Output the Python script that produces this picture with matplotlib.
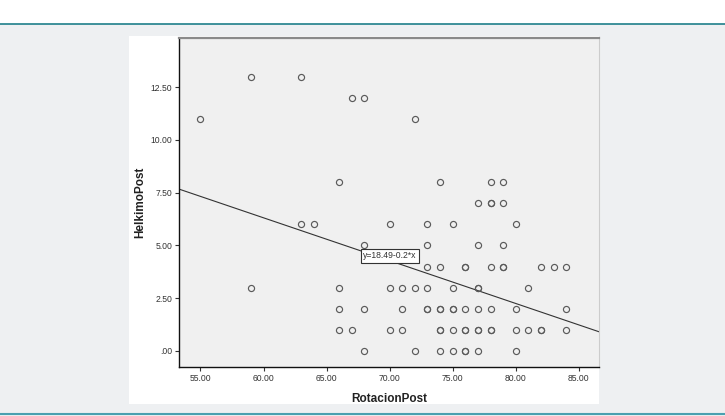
import matplotlib
matplotlib.use("Agg")
import matplotlib.pyplot as plt
from matplotlib.patches import Rectangle
from matplotlib.lines import Line2D
import numpy as np

plt.rcParams['font.family'] = ['Liberation Sans', 'DejaVu Sans']

# Data (RotacionPost, HelkimoPost); repeated pairs = overlapping cases
rotacion = [59, 63,
            67, 68,
            55, 72,
            66, 74, 78, 79,
            77, 78, 78, 79,
            63, 64, 70, 73, 75, 80,
            68, 73, 77, 79,
            73, 74, 76, 76, 78, 79, 79, 82, 83, 84,
            59, 66, 70, 71, 72, 73, 75, 77, 77, 81,
            66, 68, 71, 73, 73, 74, 74, 75, 75, 76, 77, 78, 80, 84,
            66, 67, 70, 71, 74, 74, 75, 76, 76, 77, 77, 78, 78, 80, 81, 82, 82, 84,
            68, 72, 74, 75, 76, 76, 77, 80]
helkimo = [13, 13,
           12, 12,
           11, 11,
           8, 8, 8, 8,
           7, 7, 7, 7,
           6, 6, 6, 6, 6, 6,
           5, 5, 5, 5,
           4, 4, 4, 4, 4, 4, 4, 4, 4, 4,
           3, 3, 3, 3, 3, 3, 3, 3, 3, 3,
           2, 2, 2, 2, 2, 2, 2, 2, 2, 2, 2, 2, 2, 2,
           1, 1, 1, 1, 1, 1, 1, 1, 1, 1, 1, 1, 1, 1, 1, 1, 1, 1,
           0, 0, 0, 0, 0, 0, 0, 0]

fit_intercept = 18.49
fit_slope = -0.203
fit_label = "y=18.49-0.2*x"

x_ticks = [55, 60, 65, 70, 75, 80, 85]
x_ticklabels = ["55.00", "60.00", "65.00", "70.00", "75.00", "80.00", "85.00"]
y_ticks = [0, 2.5, 5, 7.5, 10, 12.5]
y_ticklabels = [".00", "2.50", "5.00", "7.50", "10.00", "12.50"]

W, H = 725, 416
fig = plt.figure(figsize=(W / 100, H / 100), dpi=100)
fig.patch.set_facecolor('#eef0f2')

# top white band and teal rules
fig.patches.append(Rectangle((0, 1 - 24 / H), 1, 24 / H, transform=fig.transFigure,
                             facecolor='white', edgecolor='none', zorder=-2))
fig.lines.append(Line2D([0, 1], [1 - 24 / H, 1 - 24 / H], transform=fig.transFigure,
                        color='#1f7f8a', lw=1.2, zorder=-1))
fig.lines.append(Line2D([0, 1], [1 - 414 / H, 1 - 414 / H], transform=fig.transFigure,
                        color='#4aa0b0', lw=1.5, zorder=-1))
# white chart panel
fig.patches.append(Rectangle((129 / W, 1 - 404 / H), (599 - 129) / W, (404 - 36) / H,
                             transform=fig.transFigure, facecolor='white',
                             edgecolor='none', zorder=-2))

ax = fig.add_axes([179 / W, 1 - 367 / H, 420 / W, (367 - 38) / H])
ax.set_facecolor('#f0f0f0')

ax.plot(rotacion, helkimo, linestyle='none', marker='o', markersize=4.4,
        markerfacecolor='none', markeredgecolor='#5a5a5a', markeredgewidth=0.85,
        zorder=3)

xlim = (53.3, 86.6)
ax.set_xlim(*xlim)
ax.set_ylim(-0.76, 14.83)
xx = np.array(xlim)
ax.plot(xx, fit_intercept + fit_slope * xx, color='#333333', lw=0.8, zorder=2)

ax.text(70.0, 4.5, fit_label, fontsize=6.2, color='#333333', ha='center', va='center',
        zorder=4,
        bbox=dict(boxstyle='square,pad=0.25', facecolor='white', edgecolor='#333333',
                  linewidth=0.8))

ax.set_xticks(x_ticks)
ax.set_xticklabels(x_ticklabels)
ax.set_yticks(y_ticks)
ax.set_yticklabels(y_ticklabels)
ax.tick_params(axis='both', labelsize=6.2, colors='#333333', length=3, width=0.8,
               direction='out', pad=2)

for s in ['left', 'bottom']:
    ax.spines[s].set_color('#111111')
    ax.spines[s].set_linewidth(1.0)
ax.spines['top'].set_color('#8a8a8a')
ax.spines['top'].set_linewidth(1.6)
ax.spines['right'].set_color('#cccccc')
ax.spines['right'].set_linewidth(0.8)

ax.set_xlabel('RotacionPost', fontsize=8.5, fontweight='bold', color='#222222',
              labelpad=7)
ax.set_ylabel('HelkimoPost', fontsize=8.5, fontweight='bold', color='#222222',
              labelpad=3)

fig.savefig('out.png', dpi=100, facecolor=fig.get_facecolor())
